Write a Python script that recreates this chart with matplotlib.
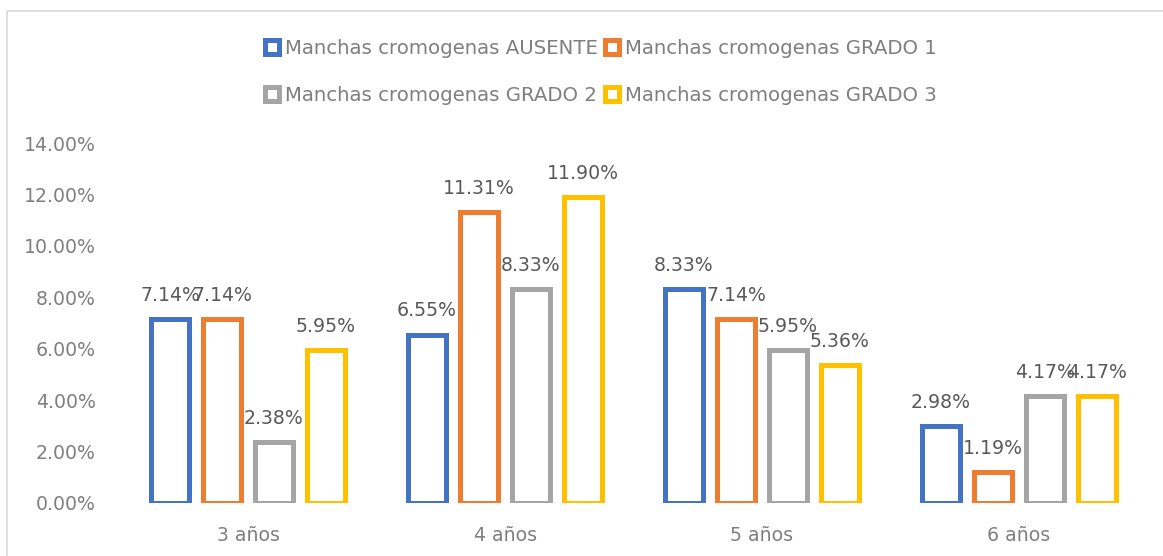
import matplotlib
matplotlib.use("Agg")
import matplotlib.pyplot as plt
import numpy as np
from matplotlib.patches import Rectangle, Patch

categories = ["3 años", "4 años", "5 años", "6 años"]
series_names = ["Manchas cromogenas AUSENTE", "Manchas cromogenas GRADO 1",
                "Manchas cromogenas GRADO 2", "Manchas cromogenas GRADO 3"]
ausente = [7.14, 6.55, 8.33, 2.98]
grado1 = [7.14, 11.31, 7.14, 1.19]
grado2 = [2.38, 8.33, 5.95, 4.17]
grado3 = [5.95, 11.90, 5.36, 4.17]
colors = ["#4472C4", "#ED7D31", "#A5A5A5", "#FFC000"]
yticks = [0, 2, 4, 6, 8, 10, 12, 14]

plt.rcParams['font.family'] = ['DejaVu Sans']

fig = plt.figure(figsize=(11.63, 5.56), dpi=100)
ax = fig.add_axes([119.5 / 1163, 53 / 556, 1028 / 1163, 360 / 556])

all_series = [ausente, grado1, grado2, grado3]
x = np.arange(len(categories))
step = 0.2023
width = 0.148
for i, (vals, col) in enumerate(zip(all_series, colors)):
    xs = x + (i - 1.5) * step
    ax.bar(xs, vals, width=width, facecolor="white", edgecolor=col,
           linewidth=3.6, joinstyle="miter")
    for xi, v in zip(xs, vals):
        ax.annotate(f"{v:.2f}%", (xi, v), xytext=(0, 17), textcoords="offset points",
                    ha="center", va="center", fontsize=13.6, color="#595959")

ax.set_xlim(-0.5, len(categories) - 0.5)
ax.set_ylim(0, 14)
ax.set_yticks(yticks)
ax.set_yticklabels([f"{t:.2f}%" for t in yticks])
ax.set_xticks(x)
ax.set_xticklabels(categories)
ax.tick_params(axis="both", length=0, labelsize=13.6, labelcolor="#7F7F7F")
ax.tick_params(axis="y", pad=17)
ax.tick_params(axis="x", pad=16.5)
for s in ax.spines.values():
    s.set_visible(False)

handles = [Patch(facecolor="white", edgecolor=c, linewidth=3.6) for c in colors]
order = [0, 2, 1, 3]
fig.legend([handles[i] for i in order], [series_names[i] for i in order],
           ncol=2, loc="center", bbox_to_anchor=(601 / 1163, 1 - 72 / 556),
           frameon=False, fontsize=14.2, labelcolor="#7F7F7F",
           handlelength=0.7, handleheight=0.7, handletextpad=0.3,
           columnspacing=0.35, labelspacing=1.45)

fig.patches.append(Rectangle((7 / 1163, -0.1), 1.2, 1.1 - 11 / 556, transform=fig.transFigure,
                             facecolor="none", edgecolor="#D9D9D9", linewidth=1.2))

fig.savefig("out.png", dpi=100)
